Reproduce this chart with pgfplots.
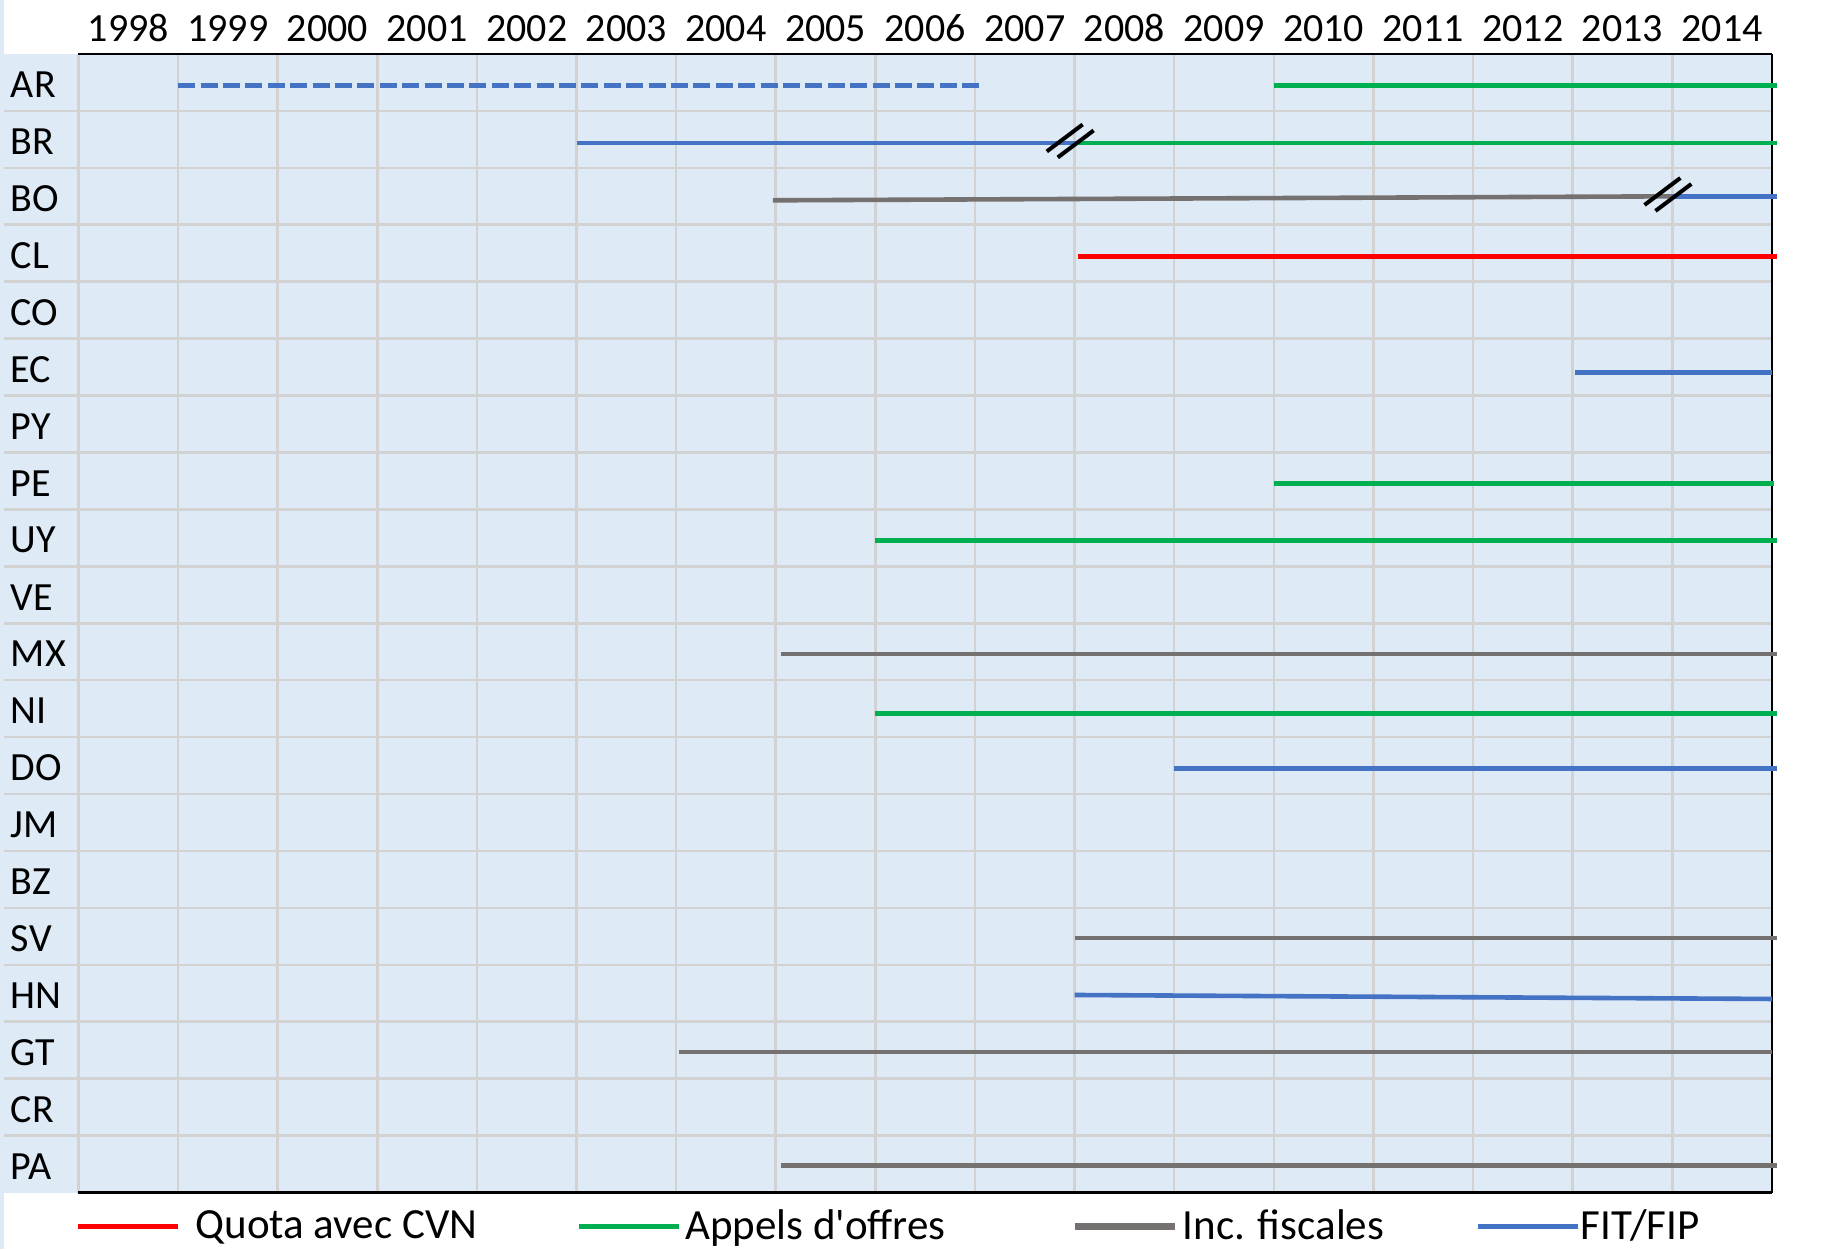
\documentclass[border=0pt]{standalone}
\usepackage{fontspec}
\setmainfont{Carlito}[Ligatures=TeXOff]
\usepackage{pgfplots}
\pgfplotsset{compat=1.18}
\definecolor{bgblue}{HTML}{DEEAF6}
\definecolor{gridgray}{HTML}{D2D2D2}
\definecolor{cred}{HTML}{FF0000}
\definecolor{cgreen}{HTML}{00B050}
\definecolor{cgray}{HTML}{767171}
\definecolor{cblue}{HTML}{4472C4}
\begin{document}
\begin{tikzpicture}[x=1pt,y=1pt]
\useasboundingbox (0,0) rectangle (918,624.5);
\fill[bgblue] (0,0) rectangle (2,624.5);
\fill[bgblue] (2,28.25) rectangle (886,597.5);
\begin{axis}[at={(39.25pt,28.25pt)}, anchor=south west, scale only axis,
  width=846.75pt, height=569.25pt,
  xmin=1998, xmax=2015, ymin=0.5, ymax=20.5, y dir=reverse, clip=false,
  axis line style={draw=none},
  major tick length=0pt, minor tick length=0pt,
  xtick={1998.5,1999.5,...,2014.5},
  xticklabels={1998,1999,2000,2001,2002,2003,2004,2005,2006,2007,2008,2009,2010,2011,2012,2013,2014},
  xticklabel pos=upper,
  minor xtick={1998,1999,...,2014},
  xminorgrids=true,
  minor x grid style={gridgray, line width=1.3pt},
  ytick={1,...,20},
  yticklabels={AR,BR,BO,CL,CO,EC,PY,PE,UY,VE,MX,NI,DO,JM,BZ,SV,HN,GT,CR,PA},
  xticklabel style={anchor=base, inner sep=0pt, yshift=6.5pt, font=\fontsize{20}{24}\selectfont},
  yticklabel style={anchor=west, inner sep=0pt, xshift=-34pt, yshift=-1.2pt, font=\fontsize{20}{24}\selectfont},
  legend style={at={(axis description cs:0,0)}, anchor=west, yshift=-16.95pt, xshift=-1.75pt,
    draw=none, fill=none, legend columns=4, inner sep=0pt, outer sep=0pt,
    column sep=0pt, nodes={inner sep=0pt}, font=\fontsize{21.5}{25}\selectfont},
  legend cell align=left,
  legend image code/.code={\draw[#1] (0pt,0pt) -- (50pt,0pt);},
]
% horizontal grid lines (extending into the label column)
\pgfplotsinvokeforeach{1,...,19}{
  \draw[gridgray, line width=1.3pt] ([xshift=-37.25pt]axis cs:1998,#1.5) -- (axis cs:2015,#1.5);
}
% axis frame: top, bottom, right black
\draw[black, line width=1.4pt] (axis cs:1998,0.5) -- (axis cs:2015,0.5);
\draw[black, line width=1.6pt] (axis cs:1998,20.5) -- (axis cs:2015,20.5);
\draw[black, line width=1.1pt] (axis cs:2015,0.5) -- (axis cs:2015,20.5);

% AR
\addplot[cblue, line width=2.3pt, dash pattern=on 8.5pt off 2.7pt, forget plot] coordinates {(1999,1.055) (2007.05,1.055)};
\addplot[cgreen, line width=2.3pt, forget plot] coordinates {(2010,1.055) (2015.05,1.055)};
% BR
\addplot[cblue, line width=2.3pt, forget plot] coordinates {(2003,2.06) (2008,2.06)};
\addplot[cgreen, line width=2.3pt, forget plot] coordinates {(2008,2.06) (2015.05,2.06)};
% BO
\addplot[cgray, line width=2.3pt, forget plot] coordinates {(2004.97,3.07) (2014,3.0)};
\addplot[cblue, line width=2.3pt, forget plot] coordinates {(2014,3.0) (2015.05,3.0)};
% CL
\addplot[cred, line width=2.3pt, forget plot] coordinates {(2008.03,4.06) (2015.05,4.06)};
% EC
\addplot[cblue, line width=2.3pt, forget plot] coordinates {(2013.02,6.1) (2015,6.1)};
% PE
\addplot[cgreen, line width=2.3pt, forget plot] coordinates {(2010,8.04) (2015.02,8.04)};
% UY
\addplot[cgreen, line width=2.3pt, forget plot] coordinates {(2006,9.05) (2015.05,9.05)};
% MX
\addplot[cgray, line width=2.3pt, forget plot] coordinates {(2005.05,11.04) (2015.05,11.04)};
% NI
\addplot[cgreen, line width=2.3pt, forget plot] coordinates {(2006,12.08) (2015.05,12.08)};
% DO
\addplot[cblue, line width=2.3pt, forget plot] coordinates {(2009,13.05) (2015.05,13.05)};
% SV
\addplot[cgray, line width=2.3pt, forget plot] coordinates {(2008,16.03) (2015.05,16.03)};
% HN
\addplot[cblue, line width=2.3pt, forget plot] coordinates {(2008,17.03) (2015,17.1)};
% GT
\addplot[cgray, line width=2.3pt, forget plot] coordinates {(2004.03,18.03) (2015,18.03)};
% PA
\addplot[cgray, line width=2.3pt, forget plot] coordinates {(2005.05,20.03) (2015.05,20.03)};

% break marks
\addplot[black, line width=2pt, forget plot] coordinates {(2007.72,2.212) (2008.08,1.738)};
\addplot[black, line width=2pt, forget plot] coordinates {(2007.83,2.317) (2008.19,1.843)};
\addplot[black, line width=2pt, forget plot] coordinates {(2013.72,3.152) (2014.08,2.678)};
\addplot[black, line width=2pt, forget plot] coordinates {(2013.83,3.257) (2014.19,2.783)};

% legend
\addlegendimage{cred, line width=2.8pt}
\addlegendentry{\makebox[198pt][l]{\hspace{7.5pt}Quota avec CVN}}
\addlegendimage{cgreen, line width=2.8pt}
\addlegendentry{\makebox[195pt][l]{\hspace{1.5pt}Appels d'offres}}
\addlegendimage{cgray, line width=3.2pt}
\addlegendentry{\makebox[148.3pt][l]{\hspace{2pt}Inc. fiscales}}
\addlegendimage{cblue, line width=2.8pt}
\addlegendentry{\hspace{0pt}FIT/FIP}
\end{axis}
\end{tikzpicture}
\end{document}
